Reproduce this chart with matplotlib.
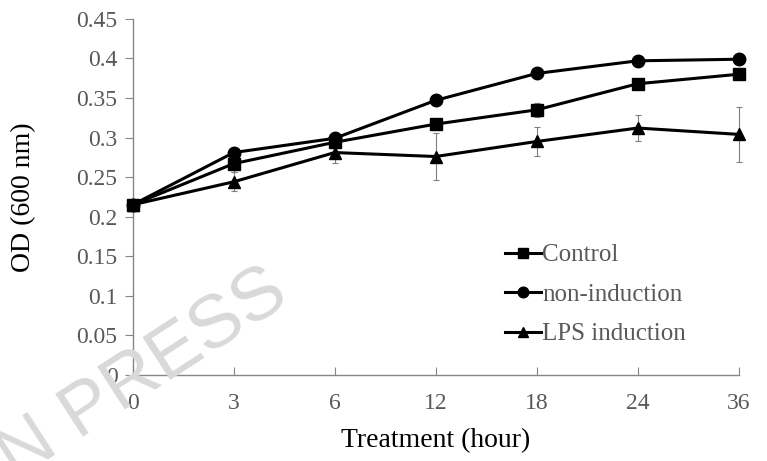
import matplotlib
matplotlib.use('Agg')
import matplotlib.pyplot as plt
import numpy as np

# data
hours = ['0', '3', '6', '12', '18', '24', '36']
control = [0.215, 0.267, 0.294, 0.317, 0.335, 0.368, 0.380]
control_err = [0.003, 0.010, 0.005, 0.004, 0.009, 0.004, 0.003]
non_induction = [0.215, 0.281, 0.299, 0.347, 0.381, 0.397, 0.399]
non_induction_err = [0.003, 0.004, 0.007, 0.003, 0.003, 0.003, 0.005]
lps = [0.215, 0.244, 0.281, 0.276, 0.295, 0.312, 0.304]
lps_err = [0.003, 0.012, 0.013, 0.030, 0.018, 0.017, 0.035]

plt.rcParams['font.family'] = ['Liberation Serif', 'DejaVu Serif']

fig = plt.figure(figsize=(7.67, 4.61), dpi=100)
ax = fig.add_axes([0.173, 0.187, 0.790, 0.772])

x = np.arange(len(hours))
grey = '#595959'

series = [
    (control, control_err, 's', 'Control'),
    (non_induction, non_induction_err, 'o', 'non-induction'),
    (lps, lps_err, '^', 'LPS induction'),
]
for vals, err, mk, name in series:
    eb = ax.errorbar(x, vals, yerr=err, fmt='none', ecolor='#7f7f7f',
                     elinewidth=0.8, capsize=2.5, capthick=0.8, zorder=2)
    for art in eb.lines[1] + eb.lines[2]:
        art.set_clip_on(False)
    ax.plot(x, vals, color='black', lw=2.2, marker=mk, markersize=9,
            label=name, zorder=3, clip_on=False)

ax.set_xlim(0, 6)
ax.set_ylim(0, 0.45)
ax.set_xticks(x)
ax.set_xticklabels(hours)
ax.set_yticks(np.arange(0, 0.451, 0.05))
ax.set_yticklabels(['0', '0.05', '0.1', '0.15', '0.2', '0.25', '0.3',
                    '0.35', '0.4', '0.45'])

for s in ['top', 'right']:
    ax.spines[s].set_visible(False)
for s in ['left', 'bottom']:
    ax.spines[s].set_color('#868686')
    ax.spines[s].set_linewidth(1.0)
ax.tick_params(axis='x', direction='in', length=6, color='#868686',
               labelsize=17, labelcolor=grey, pad=13)
ax.tick_params(axis='y', direction='out', length=6, color='#868686',
               labelsize=17, labelcolor=grey, pad=5)

ax.set_xlabel('Treatment (hour)', fontsize=20, va='center')
ax.xaxis.set_label_coords(0.5, -0.185)
ax.set_ylabel('OD (600 nm)', fontsize=20, va='center')
ax.yaxis.set_label_coords(-0.18, 0.5)

leg = ax.legend(loc='center left', bbox_to_anchor=(0.593, 0.225), frameon=False,
                fontsize=18, handlelength=1.45, handletextpad=0.05,
                labelspacing=0.68, markerscale=0.85, borderpad=0)
for t in leg.get_texts():
    t.set_color(grey)

# watermark
fig.text(0.188, 0.141, 'IN PRESS', fontsize=54, color='#d9d9d9',
         rotation=33, ha='center', va='baseline', rotation_mode='anchor',
         family='Liberation Sans', zorder=0)

fig.savefig('out.png', dpi=100)
